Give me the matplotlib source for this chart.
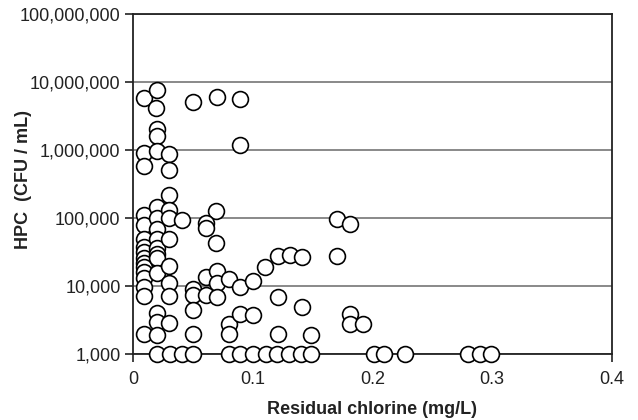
import matplotlib
matplotlib.use("Agg")
import matplotlib.pyplot as plt
from matplotlib.ticker import FixedLocator

plt.rcParams['font.family'] = ['Liberation Sans', 'DejaVu Sans']

# Residual chlorine (mg/L) and HPC (CFU/mL)
chlorine = [
    # top cluster
    0.009, 0.020, 0.019, 0.050, 0.070, 0.089,
    0.020, 0.020, 0.009, 0.020, 0.030, 0.009, 0.030, 0.089,
    # x ~ 0.01 column
    0.009, 0.009, 0.009, 0.009, 0.009, 0.009, 0.009, 0.009, 0.009, 0.009, 0.009, 0.009, 0.009,
    # x ~ 0.02 column
    0.020, 0.020, 0.020, 0.020, 0.020, 0.020, 0.020, 0.020, 0.020, 0.020, 0.020,
    # x ~ 0.03 column
    0.030, 0.030, 0.030, 0.030, 0.030, 0.030, 0.030, 0.030,
    # x ~ 0.04 - 0.07
    0.041, 0.069, 0.061, 0.061, 0.069,
    0.050, 0.050, 0.050, 0.050,
    0.061, 0.070, 0.070, 0.061, 0.070,
    # x ~ 0.08 - 0.15
    0.080, 0.089, 0.100, 0.110, 0.121, 0.131, 0.141, 0.121,
    0.080, 0.080, 0.089, 0.100, 0.141, 0.121, 0.149,
    # right cluster
    0.170, 0.181, 0.170, 0.181, 0.181, 0.192,
    # bottom row at detection limit
    0.020, 0.031, 0.041, 0.050,
    0.080, 0.089, 0.100, 0.111, 0.120, 0.130, 0.140, 0.149,
    0.201, 0.210, 0.227,
    0.280, 0.290, 0.299,
]
hpc = [
    5.9e6, 7.6e6, 4.1e6, 5.0e6, 6.0e6, 5.6e6,
    2.05e6, 1.6e6, 8.9e5, 9.7e5, 8.8e5, 5.9e5, 5.0e5, 1.18e6,
    1.1e5, 7.8e4, 5.0e4, 3.8e4, 3.2e4, 2.6e4, 2.2e4, 1.9e4, 1.6e4, 1.3e4, 9.8e3, 7.1e3, 1.95e3,
    1.44e5, 9.9e4, 6.8e4, 5.0e4, 3.6e4, 3.0e4, 2.6e4, 1.55e4, 4.0e3, 3.0e3, 1.9e3,
    2.15e5, 1.33e5, 9.9e4, 5.0e4, 1.95e4, 1.1e4, 7.1e3, 2.9e3,
    9.4e4, 1.28e5, 8.5e4, 7.2e4, 4.3e4,
    9.2e3, 7.3e3, 4.5e3, 1.95e3,
    1.37e4, 1.68e4, 1.1e4, 7.5e3, 6.8e3,
    1.27e4, 9.6e3, 1.2e4, 1.9e4, 2.76e4, 2.86e4, 2.65e4, 7.0e3,
    2.8e3, 1.95e3, 3.9e3, 3.8e3, 4.9e3, 1.95e3, 1.9e3,
    9.6e4, 8.2e4, 2.76e4, 3.9e3, 2.8e3, 2.8e3,
    1e3, 1e3, 1e3, 1e3,
    1e3, 1e3, 1e3, 1e3, 1e3, 1e3, 1e3, 1e3,
    1e3, 1e3, 1e3,
    1e3, 1e3, 1e3,
]

x_ticks = [0, 0.1, 0.2, 0.3, 0.4]
x_tick_labels = ['0', '0.1', '0.2', '0.3', '0.4']
y_ticks = [1e3, 1e4, 1e5, 1e6, 1e7, 1e8]
y_tick_labels = ['1,000', '10,000', '100,000', '1,000,000', '10,000,000', '100,000,000']

fig = plt.figure(figsize=(6.38, 4.2), dpi=100)
ax = fig.add_axes([0.2085, 0.157, 0.7505, 0.8097])

ax.set_yscale('log')
ax.set_xlim(0, 0.4)
ax.set_ylim(1e3, 1e8)

ax.yaxis.grid(True, color='#808080', linewidth=1.3)
ax.set_axisbelow(True)

ax.scatter(chlorine, hpc, s=130, facecolor='white', edgecolor='black',
           linewidth=1.2, zorder=3, clip_on=False)

ax.xaxis.set_major_locator(FixedLocator(x_ticks))
ax.set_xticklabels(x_tick_labels)
ax.yaxis.set_major_locator(FixedLocator(y_ticks))
ax.set_yticklabels(y_tick_labels)
ax.yaxis.set_minor_locator(FixedLocator([]))

for s in ax.spines.values():
    s.set_linewidth(1.3)
    s.set_color('#222222')

ax.tick_params(axis='both', which='major', direction='out', length=6, width=1.2,
               labelsize=13, colors='#222222', labelcolor='#222222')
ax.tick_params(axis='y', pad=3)
ax.tick_params(axis='x', pad=6)

ax.set_xlabel('Residual chlorine (mg/L)', fontsize=13, fontweight='bold', color='#222222',
              va='center')
ax.xaxis.set_label_coords(0.5, (354 - 409) / 340.0)
ax.set_ylabel('HPC  (CFU / mL)', fontsize=13, fontweight='bold', color='#222222',
              va='center', ha='center')
ax.yaxis.set_label_coords((23 - 133) / 479.0, (354 - 179) / 340.0)

fig.savefig('out.png', dpi=100)
